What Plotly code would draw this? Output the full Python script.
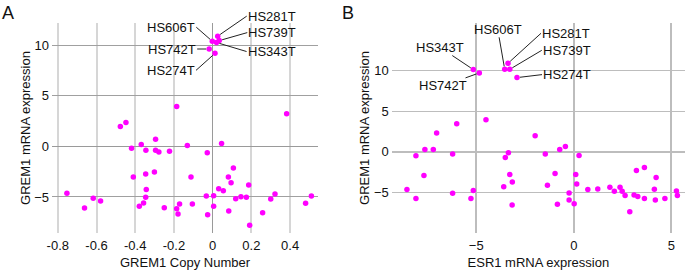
import plotly.graph_objects as go

# ---------------- Data ----------------
# Panel A: GREM1 copy number vs GREM1 mRNA expression
a_copy = [-0.186, -0.448, -0.477, 0.382, -0.295, -0.369, -0.419, -0.345, -0.295, -0.278,
          -0.223, -0.131, -0.028, 0.046, -0.41, -0.346, -0.301, -0.112, -0.343, -0.753,
          -0.617, -0.579, -0.346, -0.357, -0.379, -0.662, -0.25, -0.171, -0.186, -0.179,
          -0.105, -0.033, 0.005, -0.026, 0.005, 0.031, 0.055, 0.107, 0.081, 0.095,
          0.186, 0.119, 0.146, 0.174, 0.083, 0.191, 0.258, 0.3, 0.322, 0.48, 0.51]
a_grem = [3.95, 2.37, 1.97, 3.22, 0.72, 0.2, -0.17, -0.37, -0.37, -0.56,
          -0.49, 0.1, -0.63, 0.29, -3.03, -2.73, -2.54, -3.03, -4.25, -4.64,
          -5.13, -5.4, -5.03, -5.6, -5.92, -6.09, -6.06, -5.7, -6.16, -6.68,
          -5.7, -4.9, -4.87, -6.75, -5.92, -4.18, -4.38, -2.14, -3.03, -3.59,
          -3.82, -5.17, -4.97, -5.03, -6.39, -7.8, -6.55, -5.2, -4.71, -5.63, -4.9]

labeled_lines = ["HS281T", "HS739T", "HS343T", "HS606T", "HS742T", "HS274T"]
a_lab_copy = [0.026, 0.034, 0.02, -0.002, -0.018, 0.012]
a_lab_grem = [10.9, 10.46, 10.27, 10.4, 9.63, 9.2]

# Panel B: ESR1 mRNA expression vs GREM1 mRNA expression
b_esr1 = [-4.5, -6.0, -7.03, -1.98, -8.09, -7.63, -7.2, -6.21, -7.68, -8.55,
          -8.09, -6.21, -5.15, -5.27, -3.51, -3.35, -3.28, -3.15, -3.59, -3.16,
          -1.46, -0.72, -0.43, 0.27, -0.96, -1.35, 0.1, 0.15, -0.24, -0.84,
          -0.24, 0.02, 0.72, 1.23, 1.85, 2.08, 2.37, 2.48, 2.63, 2.87,
          3.09, 3.28, 3.21, 3.62, 3.62, 4.22, 4.13, 4.18, 4.67, 5.26, 5.31]
b_grem = [3.94, 3.44, 2.3, 1.97, -0.49, 0.29, 0.29, -0.28, -2.91, -4.63,
          -5.74, -5.08, -4.76, -5.74, -0.7, -0.12, -2.79, -3.69, -4.3, -6.52,
          -0.28, 0.29, 0.65, -0.46, -2.67, -4.1, -2.79, -3.94, -5.04, -6.44,
          -5.9, -6.36, -4.63, -4.55, -4.35, -4.84, -4.35, -4.84, -5.37, -7.34,
          -5.29, -5.49, -2.3, -1.93, -5.74, -3.16, -4.59, -5.9, -5.74, -4.8, -5.37]

b_lab_esr1 = [-3.37, -3.28, -5.15, -3.54, -4.84, -2.91]
b_lab_grem = [10.86, 10.12, 10.09, 10.12, 9.68, 9.1]

a_xticks = [-0.8, -0.6, -0.4, -0.2, 0, 0.2, 0.4]
a_xticklabels = ["-0.8", "-0.6", "-0.4", "-0.2", "0", "0.2", "0.4"]
b_xticks = [-5, 0, 5]
y_ticks = [-5, 0, 5, 10]

# ---------------- Styles ----------------
FONT = "Liberation Sans, Arial, Helvetica, sans-serif"
MAGENTA = "#ff00ff"

# label offsets (pixels) per panel: (ax, ay, xanchor)
a_offsets = {"HS281T": (29, -20, "left"), "HS739T": (28, -8, "left"),
             "HS343T": (30, 9, "left"), "HS606T": (-16, -14, "right"),
             "HS742T": (-12, 0, "right"), "HS274T": (-19, 17, "right")}
b_offsets = {"HS281T": (33, -30, "left"), "HS739T": (32, -19, "left"),
             "HS343T": (-33, -22, "center"), "HS606T": (-7, -40, "center"),
             "HS742T": (-36, 13, "center"), "HS274T": (25, -3, "left")}

fig = go.Figure()
marker = dict(color=MAGENTA, size=5.5, line=dict(width=0))

fig.add_trace(go.Scatter(x=a_copy + a_lab_copy, y=a_grem + a_lab_grem, mode="markers",
                         marker=marker, xaxis="x", yaxis="y", showlegend=False))
fig.add_trace(go.Scatter(x=b_esr1 + b_lab_esr1, y=b_grem + b_lab_grem, mode="markers",
                         marker=marker, xaxis="x2", yaxis="y2", showlegend=False))

annotations = []
for name, xv, yv in zip(labeled_lines, a_lab_copy, a_lab_grem):
    ax, ay, xa = a_offsets[name]
    annotations.append(dict(x=xv, y=yv, xref="x", yref="y", text=name, showarrow=True,
                            arrowhead=0, arrowwidth=1, arrowcolor="#222", ax=ax, ay=ay,
                            xanchor=xa, yanchor="middle", standoff=3, borderpad=0,
                            font=dict(size=13, color="#111", family=FONT)))
for name, xv, yv in zip(labeled_lines, b_lab_esr1, b_lab_grem):
    ax, ay, xa = b_offsets[name]
    annotations.append(dict(x=xv, y=yv, xref="x2", yref="y2", text=name, showarrow=True,
                            arrowhead=0, arrowwidth=1, arrowcolor="#222", ax=ax, ay=ay,
                            xanchor=xa, yanchor="middle", standoff=3, borderpad=0,
                            font=dict(size=13, color="#111", family=FONT)))

annotations.append(dict(x=-0.082, y=1.105, xref="paper", yref="paper", text="A",
                        showarrow=False, xanchor="left", yanchor="top",
                        font=dict(size=18, color="#111", family=FONT)))
annotations.append(dict(x=0.455, y=1.105, xref="paper", yref="paper", text="B",
                        showarrow=False, xanchor="left", yanchor="top",
                        font=dict(size=18, color="#111", family=FONT)))

tickfont = dict(size=13, color="#111", family=FONT)
titlefont = dict(size=13, color="#111", family=FONT)

fig.update_layout(
    width=685, height=271,
    margin=dict(l=52, r=0, t=23, b=38),
    paper_bgcolor="white", plot_bgcolor="white",
    font=dict(family=FONT, size=13, color="#111"),
    annotations=annotations,
    xaxis=dict(domain=[0, 0.4202], range=[-0.83, 0.544], tickvals=a_xticks,
               ticktext=a_xticklabels, showgrid=True, gridcolor="#d6d6d6", gridwidth=2,
               zeroline=True, zerolinecolor="#9a9a9a", zerolinewidth=1,
               showline=False, ticks="", ticklabelstandoff=3, tickfont=tickfont,
               title=dict(text="GREM1 Copy Number", font=titlefont, standoff=5)),
    yaxis=dict(domain=[0, 1], range=[-8.56, 12.2], tickvals=y_ticks,
               showgrid=True, gridcolor="#a0a0a0", gridwidth=1,
               zeroline=True, zerolinecolor="#9a9a9a", zerolinewidth=1,
               showline=False, ticks="", ticklabelstandoff=2, tickfont=tickfont,
               title=dict(text="GREM1 mRNA expression", font=titlefont, standoff=0)),
    xaxis2=dict(domain=[0.5367, 1], range=[-9.33, 5.7], tickvals=b_xticks,
                showgrid=True, gridcolor="#bdbdbd", gridwidth=1.5,
                zeroline=True, zerolinecolor="#bdbdbd", zerolinewidth=2,
                showline=False, ticks="", ticklabelstandoff=3, tickfont=tickfont,
                title=dict(text="ESR1 mRNA expression", font=titlefont, standoff=5)),
    yaxis2=dict(domain=[0, 1], range=[-9.96, 15.8], tickvals=y_ticks, anchor="x2",
                showgrid=True, gridcolor="#bdbdbd", gridwidth=1,
                zeroline=True, zerolinecolor="#bdbdbd", zerolinewidth=2,
                showline=False, ticks="", ticklabelstandoff=2, tickfont=tickfont,
                title=dict(text="GREM1 mRNA expression", font=titlefont, standoff=1)),
)
fig.update_layout(xaxis2_anchor="y2")

fig.write_html("out.html", config={"displayModeBar": False},
               post_script="document.body.style.margin='0px';document.body.style.overflow='hidden';")
